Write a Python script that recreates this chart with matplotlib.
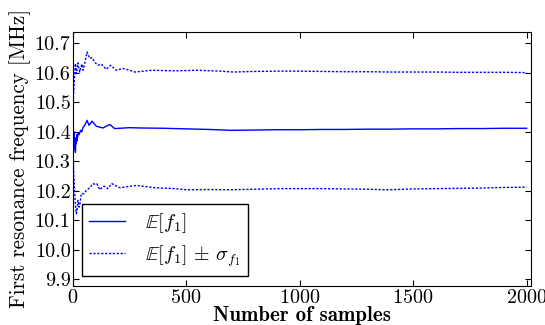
"""
Сходимость оценки первой резонансной частоты по числу выборок.
"""

import matplotlib
matplotlib.use("Agg")
import matplotlib.pyplot as plt

# Среднее E[f1] (номер выборки, МГц)
mean_n = [0, 1, 2, 4, 6, 8, 10, 12, 14, 16, 18, 20, 23, 28, 35, 40, 45, 53, 63,
          72, 85, 104, 133, 163, 185, 251, 300, 400, 500, 600, 700, 800, 900,
          1000, 1100, 1200, 1300, 1400, 1500, 1600, 1700, 1800, 1900, 2000]
mean_f = [10.40, 10.45, 10.42, 10.36, 10.40, 10.34, 10.38, 10.33, 10.37, 10.36,
          10.39, 10.37, 10.394, 10.39, 10.405, 10.40, 10.414, 10.422, 10.439,
          10.422, 10.436, 10.419, 10.413, 10.425, 10.411, 10.414, 10.413,
          10.412, 10.410, 10.408, 10.405, 10.406, 10.407, 10.407, 10.408,
          10.408, 10.409, 10.409, 10.410, 10.410, 10.411, 10.411, 10.412, 10.412]

# E[f1] + sigma
upper_n = [0, 1, 2, 4, 6, 9, 12, 16, 20, 23, 27, 31, 36, 41, 45, 53, 63, 75, 85,
           98, 111, 126, 148, 167, 192, 221, 251, 274, 350, 450, 550, 650, 707,
           800, 900, 1000, 1100, 1200, 1300, 1400, 1500, 1600, 1700, 1800, 1900, 2000]
upper_f = [10.45, 10.48, 10.50, 10.53, 10.56, 10.60, 10.632, 10.598, 10.62,
           10.634, 10.615, 10.603, 10.62, 10.630, 10.609, 10.632, 10.671,
           10.649, 10.652, 10.635, 10.626, 10.630, 10.612, 10.626, 10.609,
           10.615, 10.609, 10.603, 10.609, 10.607, 10.609, 10.606, 10.603,
           10.605, 10.606, 10.606, 10.605, 10.604, 10.604, 10.603, 10.603,
           10.603, 10.602, 10.602, 10.602, 10.601]

# E[f1] - sigma
lower_n = [0, 1, 2, 4, 6, 9, 12, 16, 20, 23, 28, 33, 38, 50, 60, 75, 89, 98,
           106, 120, 133, 140, 155, 172, 208, 282, 363, 450, 504, 600, 680, 800,
           913, 1000, 1100, 1200, 1300, 1383, 1500, 1600, 1700, 1800, 1900, 2000]
lower_f = [10.40, 10.35, 10.31, 10.27, 10.235, 10.19, 10.15, 10.122, 10.14,
           10.167, 10.144, 10.16, 10.19, 10.19, 10.201, 10.21, 10.224, 10.222,
           10.224, 10.203, 10.214, 10.215, 10.207, 10.224, 10.21, 10.218,
           10.21, 10.207, 10.203, 10.204, 10.203, 10.205, 10.207, 10.207,
           10.207, 10.206, 10.205, 10.203, 10.206, 10.207, 10.208, 10.209,
           10.211, 10.212]

x_ticks = [0, 500, 1000, 1500, 2000]
y_ticks = [9.9, 10.0, 10.1, 10.2, 10.3, 10.4, 10.5, 10.6, 10.7]

plt.rcParams.update({
    "font.family": "serif",
    "font.serif": ["cmr10"],
    "mathtext.fontset": "cm",
    "axes.formatter.use_mathtext": True,
    "axes.unicode_minus": False,
    "xtick.direction": "in",
    "ytick.direction": "in",
    "xtick.top": True,
    "ytick.right": True,
    "xtick.major.size": 4,
    "ytick.major.size": 4,
})

fig = plt.figure(figsize=(5.45, 3.25), dpi=100)
ax = fig.add_axes([0.1334, 0.1215, 0.8404, 0.781])

dots = (0, (1.6, 1.2))
ax.plot(mean_n, mean_f, color="#0000ff", lw=1.0, label=r"$\mathbb{E}[f_1]$")
ax.plot(upper_n, upper_f, color="#0000ff", lw=1.0, linestyle=dots,
        label=r"$\mathbb{E}[f_1]\,\pm\,\sigma_{f_1}$")
ax.plot(lower_n, lower_f, color="#0000ff", lw=1.0, linestyle=dots)

ax.set_xlim(0, 2018)
ax.set_ylim(9.878, 10.74)
ax.set_xticks(x_ticks)
ax.set_yticks(y_ticks)
ax.set_yticklabels([f"{v:.1f}" for v in y_ticks])
ax.tick_params(labelsize=14.5)
ax.tick_params(axis="x", pad=2.5)
ax.tick_params(axis="y", pad=1.5)

ax.set_xlabel("Number of samples", fontsize=15, family="cmb10", labelpad=-1)
ax.set_ylabel("First resonance frequency [MHz]", fontsize=15.2, labelpad=3)

leg = ax.legend(loc="lower left", bbox_to_anchor=(0.02, 0.038),
                borderaxespad=0, fontsize=14.5, handlelength=1.8,
                handletextpad=1.0, labelspacing=0.42, borderpad=0.35,
                fancybox=False, framealpha=1)
leg.get_frame().set_edgecolor("black")
leg.get_frame().set_linewidth(1.0)

fig.savefig("out.png", dpi=100)
plt.close(fig)
